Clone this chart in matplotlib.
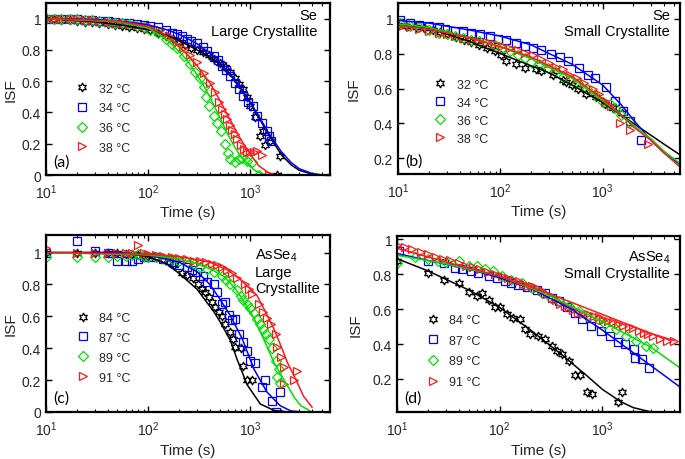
import matplotlib
matplotlib.use("Agg")
import matplotlib.pyplot as plt
from matplotlib.ticker import LogLocator, FixedLocator, FuncFormatter, NullFormatter

plt.rcParams['font.family'] = ['Liberation Sans', 'DejaVu Sans']
plt.rcParams['mathtext.fontset'] = 'custom'
plt.rcParams['mathtext.rm'] = 'Liberation Sans'
plt.rcParams['mathtext.it'] = 'Liberation Sans:italic'

# ---------------- panel (a): Se, large crystallite ----------------
A_LABELS = ['32 °C', '34 °C', '36 °C', '38 °C']
A_T32 = [10, 12, 14, 17, 20, 24, 28, 33, 40, 47, 55, 65, 77, 90, 105, 125, 150, 175, 200, 230,
         260, 300, 340, 390, 440, 500, 560, 630, 700, 780, 850, 930, 1000, 1100, 1250, 1320, 1400, 1570, 1830, 1960]
A_V32 = [1.0, 0.995, 0.99, 0.99, 0.985, 0.98, 0.978, 0.975, 0.965, 0.958, 0.95, 0.945, 0.938, 0.932, 0.925,
         0.91, 0.89, 0.87, 0.85, 0.83, 0.815, 0.80, 0.785, 0.765, 0.745, 0.715, 0.69, 0.66, 0.62, 0.58,
         0.55, 0.50, 0.44, 0.37, 0.25, 0.28, 0.19, 0.22, 0.0, 0.12]
A_T34 = [10, 12, 14, 17, 20, 24, 28, 33, 40, 47, 55, 65, 77, 90, 105, 125, 150, 170, 190, 213,
         240, 260, 300, 340, 380, 437, 480, 530, 580, 633, 700, 780, 851, 950, 1050, 1170, 1300, 1450, 1510, 1600]
A_V34 = [1.0, 1.0, 0.998, 0.995, 0.995, 0.99, 0.99, 0.985, 0.985, 0.98, 0.975, 0.97, 0.965, 0.96, 0.955,
         0.945, 0.93, 0.91, 0.90, 0.89, 0.87, 0.86, 0.845, 0.82, 0.79, 0.76, 0.735, 0.70, 0.67, 0.63,
         0.59, 0.55, 0.505, 0.47, 0.44, 0.38, 0.33, 0.28, 0.25, 0.22]
A_T36 = [10, 12, 14, 17, 20, 24, 28, 33, 40, 47, 55, 65, 77, 90, 105, 125, 150, 170, 190, 222,
         258, 290, 324, 348, 370, 390, 437, 470, 510, 560, 600, 635, 710, 770, 830, 930, 1040, 1210]
A_V36 = [1.005, 1.0, 1.0, 0.998, 0.995, 0.99, 0.99, 0.985, 0.98, 0.975, 0.97, 0.965, 0.955, 0.945, 0.93,
         0.91, 0.87, 0.84, 0.81, 0.76, 0.71, 0.66, 0.62, 0.56, 0.50, 0.44, 0.38, 0.33, 0.28, 0.20,
         0.14, 0.10, 0.08, 0.10, 0.11, 0.09, 0.08, 0.0]
A_T38 = [10, 12, 14, 17, 20, 24, 28, 33, 40, 47, 55, 65, 77, 90, 105, 130, 160, 190, 220, 258,
         300, 348, 405, 455, 490, 525, 560, 590, 625, 660, 700, 740, 800, 860, 930, 1000, 1080, 1160, 1300, 1510]
A_V38 = [1.0, 1.0, 1.0, 0.995, 0.995, 0.99, 0.99, 0.985, 0.98, 0.975, 0.97, 0.965, 0.96, 0.955, 0.945,
         0.93, 0.89, 0.85, 0.81, 0.77, 0.72, 0.65, 0.59, 0.53, 0.47, 0.42, 0.39, 0.36, 0.32, 0.29,
         0.26, 0.23, 0.19, 0.165, 0.15, 0.145, 0.15, 0.155, 0.13, 0.0]
# fit curves
AF_T12 = [10, 30, 60, 100, 150, 200, 300, 400, 500, 600, 700, 800, 1000, 1200, 1500, 2000, 2500, 3000, 4000, 5000]
AF_V32 = [1.0, 0.98, 0.955, 0.93, 0.895, 0.86, 0.80, 0.755, 0.71, 0.66, 0.61, 0.56, 0.46, 0.37, 0.26, 0.13, 0.065, 0.03, 0.006, 0.0]
AF_V34 = [1.0, 0.995, 0.98, 0.96, 0.93, 0.90, 0.84, 0.78, 0.72, 0.66, 0.61, 0.56, 0.46, 0.38, 0.27, 0.15, 0.08, 0.04, 0.01, 0.0]
AF_T36 = [10, 50, 100, 150, 200, 250, 300, 350, 400, 500, 600, 700, 800, 930, 1100, 1300, 1600]
AF_V36 = [1.0, 0.98, 0.94, 0.87, 0.79, 0.72, 0.64, 0.57, 0.50, 0.37, 0.26, 0.18, 0.12, 0.07, 0.03, 0.005, 0.0]
AF_T38 = [10, 50, 100, 150, 200, 250, 300, 400, 500, 600, 700, 800, 1000, 1200, 1500, 1800, 2500]
AF_V38 = [1.0, 0.985, 0.95, 0.89, 0.82, 0.76, 0.70, 0.59, 0.48, 0.38, 0.30, 0.23, 0.13, 0.06, 0.015, 0.0, 0.0]

# ---------------- panel (b): Se, small crystallite ----------------
B_LABELS = ['32 °C', '34 °C', '36 °C', '38 °C']
B_T32 = [10, 12, 15, 18, 22, 26, 31, 37, 44, 52, 62, 74, 88, 102, 114, 143, 174, 224, 252, 326,
         410, 443, 500, 573, 690, 870, 1050, 1270, 1550]
B_V32 = [0.965, 0.96, 0.955, 0.945, 0.935, 0.925, 0.91, 0.895, 0.88, 0.865, 0.85, 0.83, 0.815, 0.79, 0.76,
         0.74, 0.72, 0.71, 0.70, 0.68, 0.65, 0.64, 0.62, 0.60, 0.57, 0.55, 0.51, 0.49, 0.46]
B_T34 = [10.5, 13, 16, 20, 25, 29, 36, 43, 52, 63, 79, 95, 114, 143, 174, 209, 252, 316, 380, 458,
         585, 716, 834, 1070, 1310, 1590, 1840, 2350]
B_V34 = [0.99, 0.975, 0.965, 0.96, 0.95, 0.94, 0.93, 0.93, 0.92, 0.91, 0.90, 0.885, 0.88, 0.86, 0.845,
         0.83, 0.82, 0.795, 0.78, 0.755, 0.72, 0.68, 0.66, 0.61, 0.53, 0.47, 0.415, 0.305]
B_T36 = [10.5, 13, 16, 20, 25, 30, 36, 43, 52, 62, 74, 88, 105, 125, 150, 175, 200, 240, 290, 340,
         410, 480, 575, 700, 834, 1000, 1180, 1310, 1510, 1840]
B_V36 = [0.975, 0.96, 0.95, 0.935, 0.92, 0.915, 0.90, 0.89, 0.88, 0.87, 0.855, 0.85, 0.83, 0.815, 0.79,
         0.775, 0.75, 0.74, 0.72, 0.70, 0.665, 0.65, 0.63, 0.60, 0.56, 0.525, 0.51, 0.49, 0.45, 0.41]
B_T38 = [10.5, 13, 16, 20, 25, 30, 36, 43, 52, 62, 74, 88, 105, 125, 150, 175, 210, 250, 300, 350,
         410, 480, 560, 660, 800, 920, 1050, 1200, 1470, 1840, 2750]
B_V38 = [0.955, 0.95, 0.94, 0.93, 0.92, 0.915, 0.90, 0.89, 0.88, 0.875, 0.865, 0.855, 0.845, 0.83, 0.82,
         0.805, 0.79, 0.77, 0.745, 0.725, 0.71, 0.68, 0.66, 0.63, 0.60, 0.57, 0.53, 0.50, 0.405, 0.36, 0.28]
BF_T = [10, 20, 50, 100, 200, 300, 500, 1000, 1500, 2000, 3000, 4000, 5700]
BF_V32 = [0.97, 0.945, 0.87, 0.80, 0.73, 0.69, 0.62, 0.52, 0.45, 0.40, 0.33, 0.28, 0.22]
BF_V34 = [0.99, 0.975, 0.935, 0.90, 0.85, 0.80, 0.74, 0.62, 0.51, 0.42, 0.30, 0.23, 0.165]
BF_V36 = [0.97, 0.95, 0.89, 0.84, 0.77, 0.72, 0.66, 0.53, 0.45, 0.39, 0.31, 0.24, 0.17]
BF_V38 = [0.96, 0.94, 0.89, 0.84, 0.78, 0.73, 0.67, 0.54, 0.45, 0.38, 0.30, 0.23, 0.15]

# ---------------- panel (c): AsSe4, large crystallite ----------------
C_LABELS = ['84 °C', '87 °C', '89 °C', '91 °C']
C_T84 = [10, 20, 30, 40, 50, 60, 70, 80, 90, 100, 120, 140, 160, 180, 214, 240, 277, 310, 336, 360,
         390, 420, 455, 490, 525, 570, 635, 680, 710, 800, 850, 930, 1040]
C_V84 = [1.0, 1.0, 1.0, 1.0, 1.0, 0.99, 0.99, 0.985, 0.98, 0.98, 0.97, 0.96, 0.94, 0.92, 0.87,
         0.86, 0.84, 0.80, 0.77, 0.75, 0.72, 0.69, 0.66, 0.63, 0.60, 0.55, 0.50, 0.46, 0.41, 0.40,
         0.29, 0.20, 0.20]
C_T87 = [10, 20, 30, 40, 50, 60, 70, 80, 90, 100, 120, 140, 160, 180, 200, 240, 270, 300, 340, 377,
         437, 470, 525, 560, 610, 660, 710, 765, 850, 930, 1000, 1110, 1300, 1400, 1630, 1770, 1950]
C_V87 = [1.0, 1.07, 1.01, 1.0, 0.95, 0.95, 0.95, 0.96, 0.97, 0.975, 0.97, 0.96, 0.955, 0.94, 0.92,
         0.91, 0.89, 0.88, 0.85, 0.815, 0.80, 0.75, 0.68, 0.69, 0.61, 0.58, 0.585, 0.49, 0.44, 0.385,
         0.32, 0.31, 0.155, 0.20, 0.07, 0.0, 0.125]
C_T89 = [10, 20, 30, 40, 50, 60, 70, 80, 90, 100, 120, 140, 170, 200, 240, 280, 324, 380, 437, 525,
         580, 635, 740, 800, 850, 920, 1000, 1080, 1160, 1250, 1340, 1430, 1520, 1630, 1760, 1830, 1900, 1950]
C_V89 = [0.97, 0.97, 0.975, 0.97, 0.98, 0.98, 0.985, 0.99, 0.98, 0.975, 0.97, 0.965, 0.96, 0.95, 0.94,
         0.93, 0.91, 0.895, 0.88, 0.85, 0.83, 0.80, 0.765, 0.73, 0.70, 0.675, 0.65, 0.62, 0.585, 0.55,
         0.52, 0.49, 0.46, 0.40, 0.32, 0.22, 0.27, 0.18]
C_T91 = [10, 20, 30, 40, 50, 60, 70, 80, 90, 100, 120, 140, 170, 200, 240, 280, 320, 370, 420, 470,
         530, 590, 660, 740, 890, 960, 1040, 1210, 1340, 1450, 1575, 1760, 1830, 2000, 2140, 2140, 2650, 2870]
C_V91 = [1.03, 1.0, 1.0, 1.0, 1.0, 1.0, 1.0, 1.05, 1.0, 0.99, 0.985, 0.98, 0.97, 0.965, 0.96,
         0.95, 0.945, 0.94, 0.93, 0.92, 0.91, 0.89, 0.87, 0.84, 0.805, 0.77, 0.74, 0.68, 0.63, 0.59,
         0.555, 0.49, 0.41, 0.345, 0.28, 0.175, 0.20, 0.26]
CF_T84 = [10, 50, 100, 150, 200, 300, 437, 500, 635, 740, 930, 1250, 1700, 2400]
CF_V84 = [1.0, 1.0, 0.975, 0.93, 0.87, 0.77, 0.63, 0.57, 0.45, 0.33, 0.17, 0.05, 0.01, 0.0]
CF_T87 = [10, 50, 100, 200, 300, 400, 500, 635, 830, 1080, 1450, 1950, 2460, 3100]
CF_V87 = [1.0, 1.0, 0.985, 0.94, 0.88, 0.80, 0.71, 0.605, 0.46, 0.27, 0.125, 0.04, 0.008, 0.0]
CF_T89 = [10, 100, 200, 300, 400, 550, 700, 930, 1100, 1340, 1500, 1700, 2000, 2300, 2700, 3100, 3800]
CF_V89 = [1.0, 0.985, 0.96, 0.93, 0.90, 0.85, 0.78, 0.66, 0.58, 0.46, 0.39, 0.31, 0.23, 0.165, 0.09, 0.04, 0.008]
CF_T91 = [10, 100, 200, 400, 600, 800, 1000, 1160, 1400, 1700, 2000, 2300, 2750, 3300, 4000]
CF_V91 = [1.0, 0.99, 0.975, 0.94, 0.89, 0.83, 0.77, 0.73, 0.63, 0.52, 0.41, 0.31, 0.21, 0.10, 0.03]

# ---------------- panel (d): AsSe4, small crystallite ----------------
D_LABELS = ['84 °C', '87 °C', '89 °C', '91 °C']
D_T84 = [10, 20, 29, 40, 50, 60, 67, 78, 90, 100, 117, 136, 158, 177, 198, 238, 276, 322, 361, 404,
         468, 546, 612, 711, 785, 1410, 1540]
D_V84 = [0.876, 0.81, 0.77, 0.75, 0.70, 0.675, 0.695, 0.65, 0.615, 0.61, 0.57, 0.55, 0.545, 0.485, 0.46,
         0.445, 0.43, 0.39, 0.36, 0.34, 0.30, 0.22, 0.22, 0.125, 0.115, 0.065, 0.125]
D_T87 = [10.4, 20, 29, 37, 43, 53, 62, 78, 94, 112, 130, 152, 183, 230, 276, 322, 374, 450, 546, 637,
         775, 976, 1180, 1430, 1660, 2020, 2080, 2450, 2840]
D_V87 = [0.935, 0.876, 0.867, 0.838, 0.83, 0.82, 0.81, 0.79, 0.78, 0.76, 0.75, 0.74, 0.73, 0.71, 0.695,
         0.667, 0.648, 0.61, 0.58, 0.543, 0.505, 0.476, 0.448, 0.41, 0.40, 0.37, 0.32, 0.315, 0.26]
D_T89 = [10, 15, 20, 25, 30, 40, 50, 60, 72, 87, 105, 130, 165, 206, 260, 313, 374, 468, 590, 711,
         898, 1070, 1350, 1690, 2120, 2660, 3090]
D_V89 = [0.867, 0.90, 0.89, 0.875, 0.87, 0.876, 0.85, 0.85, 0.83, 0.82, 0.79, 0.77, 0.75, 0.724, 0.695,
         0.667, 0.648, 0.62, 0.59, 0.56, 0.543, 0.514, 0.486, 0.447, 0.42, 0.39, 0.375]
D_T91 = [10, 12, 14, 17, 20, 24, 28, 33, 40, 47, 55, 65, 77, 90, 105, 120, 136, 155, 170, 190,
         206, 230, 260, 290, 320, 355, 390, 430, 468, 520, 580, 650, 730, 820, 920, 1020, 1130, 1270,
         1420, 1600, 1800, 2000, 2250, 2550, 2800, 3090, 3650, 4300, 4970]
D_V91 = [0.97, 0.955, 0.945, 0.93, 0.915, 0.90, 0.89, 0.88, 0.865, 0.85, 0.84, 0.83, 0.815, 0.80, 0.79,
         0.78, 0.765, 0.76, 0.745, 0.735, 0.733, 0.72, 0.705, 0.69, 0.667, 0.65, 0.63, 0.62, 0.61, 0.595,
         0.58, 0.575, 0.57, 0.56, 0.553, 0.54, 0.533, 0.525, 0.514, 0.505, 0.495, 0.49, 0.476, 0.465,
         0.455, 0.447, 0.43, 0.42, 0.42]
DF_T84 = [10, 20, 50, 100, 200, 400, 700, 1000, 1500, 2000, 3000, 4000]
DF_V84 = [0.89, 0.82, 0.71, 0.61, 0.48, 0.34, 0.22, 0.14, 0.07, 0.035, 0.01, 0.003]
DF_T87 = [10, 20, 50, 100, 200, 500, 1000, 2000, 4000, 5800]
DF_V87 = [0.92, 0.88, 0.83, 0.78, 0.72, 0.60, 0.48, 0.35, 0.22, 0.15]
DF_T89 = [10, 30, 100, 300, 1000, 3000, 5800]
DF_V89 = [0.91, 0.86, 0.79, 0.68, 0.53, 0.38, 0.26]
DF_T91 = [10, 30, 100, 300, 1000, 3000, 5000]
DF_V91 = [0.95, 0.87, 0.79, 0.69, 0.57, 0.46, 0.42]

# marker styles: black hexagram, blue square, green diamond, red triangle
COLORS = ['black', '#0000ff', '#00e000', '#ff1a1a']
MARKERS = [(6, 1, 0), 's', 'D', '>']
MSIZES = [6.5, 6, 4.8, 6.3]
TEXT_COL = '#262626'


def draw_panel(rect, data, fits, labels, xlim, ylim, yticks, tag, note, note_xy, note_ha,
               leg_anchor, leg_spacing, ylab_x):
    ax = fig.add_axes(rect)
    handles = []
    for i, (t, v) in enumerate(data):
        h, = ax.plot(t, v, linestyle='none', marker=MARKERS[i], markersize=MSIZES[i],
                     markerfacecolor='none', markeredgecolor=COLORS[i], markeredgewidth=0.9,
                     label=labels[i])
        handles.append(h)
    for i, (t, v) in enumerate(fits):
        ax.plot(t, v, color=COLORS[i], linewidth=1.1)
    ax.set_xscale('log')
    ax.set_xlim(*xlim)
    ax.set_ylim(*ylim)
    ax.xaxis.set_major_locator(LogLocator(base=10, numticks=10))
    ax.xaxis.set_minor_locator(LogLocator(base=10, subs=range(2, 10), numticks=20))
    ax.xaxis.set_minor_formatter(NullFormatter())
    ax.yaxis.set_major_locator(FixedLocator(yticks))
    ax.yaxis.set_major_formatter(FuncFormatter(lambda y, p: f'{y:g}'))
    ax.tick_params(which='both', direction='in', top=True, right=True, colors='black',
                   labelcolor=TEXT_COL, labelsize=10)
    ax.tick_params(axis='x', which='major', pad=5)
    ax.tick_params(which='major', length=4, width=1)
    ax.tick_params(which='minor', length=2.5, width=0.8)
    for s in ax.spines.values():
        s.set_linewidth(1.6)
    ax.set_xlabel('Time (s)', fontsize=11, color=TEXT_COL)
    ax.set_ylabel('ISF', fontsize=11, color=TEXT_COL)
    ax.xaxis.set_label_coords(0.5, -0.175)
    ax.yaxis.set_label_coords(ylab_x, 0.5)
    ax.legend(handles=handles, loc='upper left', bbox_to_anchor=leg_anchor, frameon=False,
              fontsize=9, borderpad=0, borderaxespad=0, handlelength=1.0, handletextpad=0.8,
              labelspacing=leg_spacing, labelcolor=TEXT_COL)
    ax.text(0.025, 0.08, tag, transform=ax.transAxes, fontsize=11.5, va='center', ha='left',
            family=['Lato', 'DejaVu Sans'], color='black')
    ax.text(note_xy[0], note_xy[1], note, transform=ax.transAxes, fontsize=10.5, va='center',
            ha=note_ha, multialignment=note_ha, linespacing=1.15, color='black')
    return ax


fig = plt.figure(figsize=(6.85, 4.6), dpi=100)

draw_panel([46 / 685, 1 - 176 / 460, 284 / 685, 172 / 460],
           [(A_T32, A_V32), (A_T34, A_V34), (A_T36, A_V36), (A_T38, A_V38)],
           [(AF_T12, AF_V32), (AF_T12, AF_V34), (AF_T36, AF_V36), (AF_T38, AF_V38)],
           A_LABELS, (10, 6000), (0, 1.1), [0, 0.2, 0.4, 0.6, 0.8, 1], '(a)',
           'Se\nLarge Crystallite', (0.955, 0.885), 'right', (0.106, 0.537), 0.61, -0.099)

draw_panel([398 / 685, 1 - 175 / 460, 282 / 685, 171 / 460],
           [(B_T32, B_V32), (B_T34, B_V34), (B_T36, B_V36), (B_T38, B_V38)],
           [(BF_T, BF_V32), (BF_T, BF_V34), (BF_T, BF_V36), (BF_T, BF_V38)],
           B_LABELS, (10, 5700), (0.11, 1.09), [0.2, 0.4, 0.6, 0.8, 1], '(b)',
           'Se\nSmall Crystallite', (0.965, 0.883), 'right', (0.128, 0.557), 0.48, -0.131)

draw_panel([46 / 685, 1 - 413 / 460, 284 / 685, 177 / 460],
           [(C_T84, C_V84), (C_T87, C_V87), (C_T89, C_V89), (C_T91, C_V91)],
           [(CF_T84, CF_V84), (CF_T87, CF_V87), (CF_T89, CF_V89), (CF_T91, CF_V91)],
           C_LABELS, (10, 6000), (0, 1.11), [0, 0.2, 0.4, 0.6, 0.8, 1], '(c)',
           'AsSe$_4$\nLarge\nCrystallite', (0.736, 0.797), 'left', (0.109, 0.565), 0.63, -0.099)

draw_panel([397 / 685, 1 - 413 / 460, 283 / 685, 176 / 460],
           [(D_T84, D_V84), (D_T87, D_V87), (D_T89, D_V89), (D_T91, D_V91)],
           [(DF_T84, DF_V84), (DF_T87, DF_V87), (DF_T89, DF_V89), (DF_T91, DF_V91)],
           D_LABELS, (10, 5700), (0.01, 1.02), [0.2, 0.4, 0.6, 0.8, 1], '(d)',
           'AsSe$_4$\nSmall Crystallite', (0.965, 0.84), 'right', (0.106, 0.557), 0.7, -0.12)

fig.savefig('out.png', dpi=100)
